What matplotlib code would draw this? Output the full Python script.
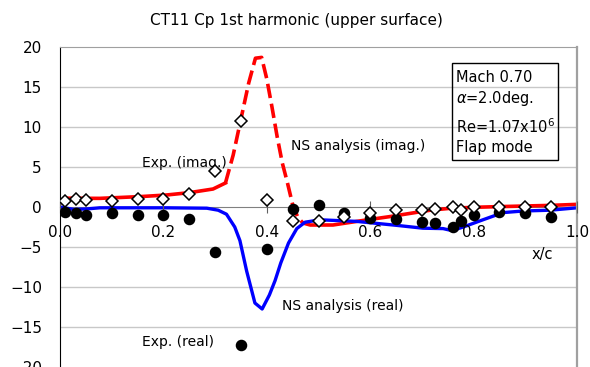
import numpy as np
from matplotlib import pyplot as plt
from matplotlib.patches import Rectangle

plt.rcParams['font.family'] = ['DejaVu Sans']
plt.rcParams['axes.unicode_minus'] = True

# experiment, imaginary part (open diamonds)
x_exp_imag = [0.01, 0.03, 0.05, 0.10, 0.15, 0.20, 0.25, 0.30, 0.35, 0.40, 0.45, 0.50,
              0.55, 0.60, 0.65, 0.70, 0.725, 0.76, 0.775, 0.80, 0.85, 0.90, 0.95]
cp_exp_imag = [0.75, 1.0, 0.9, 0.75, 1.0, 1.0, 1.6, 4.55, 10.8, 0.9, -1.7, -1.8,
               -1.3, -0.7, -0.4, -0.4, -0.3, 0.05, -0.4, -0.05, 0.0, 0.05, 0.05]

# experiment, real part (filled circles)
x_exp_real = [0.01, 0.03, 0.05, 0.10, 0.15, 0.20, 0.25, 0.30, 0.35, 0.40, 0.45, 0.50,
              0.55, 0.60, 0.65, 0.70, 0.725, 0.76, 0.775, 0.80, 0.85, 0.90, 0.95]
cp_exp_real = [-0.6, -0.8, -1.0, -0.7, -1.0, -1.0, -1.55, -5.6, -17.2, -5.2, -0.2, 0.2,
               -0.7, -1.4, -1.55, -1.9, -2.0, -2.45, -1.7, -1.0, -0.6, -0.7, -1.2]

# NS analysis, imaginary part
x_ns_imag = [0.0, 0.013, 0.077, 0.155, 0.206, 0.251, 0.296, 0.32, 0.335, 0.35, 0.365,
             0.378, 0.39, 0.40, 0.41, 0.42, 0.43, 0.44, 0.45, 0.46, 0.47, 0.484, 0.528,
             0.574, 0.60, 0.638, 0.677, 0.716, 0.754, 0.80, 0.845, 0.896, 0.948, 1.0]
cp_ns_imag = [0.45, 1.1, 1.08, 1.3, 1.5, 1.8, 2.25, 3.0, 6.5, 11.0, 15.5,
              18.6, 18.7, 16.0, 12.5, 8.8, 5.5, 3.0, 0.3, -1.3, -2.0, -2.25, -2.25,
              -1.8, -1.55, -1.2, -0.8, -0.4, -0.17, -0.04, 0.04, 0.12, 0.2, 0.33]

# NS analysis, real part
x_ns_real = [0.0, 0.026, 0.05, 0.077, 0.206, 0.284, 0.306, 0.322, 0.338, 0.348, 0.361,
             0.377, 0.391, 0.405, 0.416, 0.427, 0.442, 0.458, 0.474, 0.503, 0.574, 0.605,
             0.652, 0.702, 0.741, 0.758, 0.78, 0.818, 0.857, 0.896, 0.948, 1.0]
cp_ns_real = [0.0, -0.3, -0.25, -0.1, -0.1, -0.15, -0.4, -0.9, -2.5, -4.2, -8.0,
              -12.0, -12.75, -11.0, -9.2, -7.0, -4.5, -2.7, -1.9, -1.6, -1.8, -2.0,
              -2.3, -2.65, -2.7, -2.95, -2.5, -1.6, -0.7, -0.5, -0.4, -0.1]

xticks = [0.0, 0.2, 0.4, 0.6, 0.8, 1.0]
yticks = [-20, -15, -10, -5, 0, 5, 10, 15, 20]

fig = plt.figure(figsize=(5.9, 3.67), dpi=100)
ax = fig.add_axes([60 / 590, 0, 517 / 590, 320 / 367])
ax.set_xlim(0, 1)
ax.set_ylim(-20, 20)

# horizontal grid
for yv in yticks:
    if yv not in (0, 20, -20):
        ax.axhline(yv, color='#c8c8c8', lw=1, zorder=0.5)

# red curve: sparse peak part drawn dashed, dense parts look solid
xi = np.array(x_ns_imag)
ci = np.array(cp_ns_imag)
peak = (xi >= 0.32) & (xi <= 0.47)
ax.plot(xi[xi <= 0.32], ci[xi <= 0.32], color='red', lw=2.6, zorder=2)
ax.plot(xi[peak], ci[peak], color='red', lw=2.6, dashes=(4, 1.6), zorder=2)
ax.plot(xi[xi >= 0.47], ci[xi >= 0.47], color='red', lw=2.6, zorder=2)

ax.plot(x_ns_real, cp_ns_real, color='blue', lw=2.4, zorder=2)

ax.plot(x_exp_real, cp_exp_real, 'o', color='black', ms=7.3, zorder=3)
ax.plot(x_exp_imag, cp_exp_imag, 'D', mfc='white', mec='black', mew=1.1, ms=6.6, zorder=3.2)

# axes styling
ax.set_axisbelow(False)
ax.spines['left'].set_color('black')
ax.spines['right'].set_color('#a0a0a0')
ax.spines['right'].set_linewidth(1.6)
ax.spines['top'].set_color('#a0a0a0')
ax.spines['bottom'].set_position(('data', 0))
ax.spines['bottom'].set_color('#808080')
ax.spines['bottom'].set_zorder(1.8)

ax.set_xticks(xticks)
ax.set_xticklabels(['%.1f' % v for v in xticks])
ax.set_yticks(yticks)
ax.tick_params(axis='x', direction='inout', length=8, color='#606060', pad=9, labelsize=11)
ax.tick_params(axis='y', length=0, pad=13, labelsize=11)
for lab in ax.get_xticklabels():
    lab.set_zorder(4)

ax.text(0.932, -6.0, 'x/c', ha='center', va='center', fontsize=10.5)

fig.text(296 / 590, 1 - 20 / 367, 'CT11 Cp 1st harmonic (upper surface)',
         ha='center', va='center', fontsize=11)

# labels for each series
ax.text(0.158, 5.5, 'Exp. (imag.)', ha='left', va='center', fontsize=10, zorder=3.1)
ax.text(0.447, 7.6, 'NS analysis (imag.)', ha='left', va='center', fontsize=10)
ax.text(0.429, -12.4, 'NS analysis (real)', ha='left', va='center', fontsize=10)
ax.text(0.158, -16.9, 'Exp. (real)', ha='left', va='center', fontsize=10)

# condition box
ax.add_patch(Rectangle((0.758, 5.9), 0.205, 12.1, fill=False, ec='black', lw=1, zorder=4))
conds = ['Mach 0.70', r'$\alpha$=2.0deg.', r'Re=1.07x10$^{6}$', 'Flap mode']
cond_y = [16.25, 13.5, 10.1, 7.4]
for s, yy in zip(conds, cond_y):
    ax.text(0.766, yy, s, ha='left', va='center', fontsize=10.5, zorder=4)

plt.savefig('out.png', dpi=100)
